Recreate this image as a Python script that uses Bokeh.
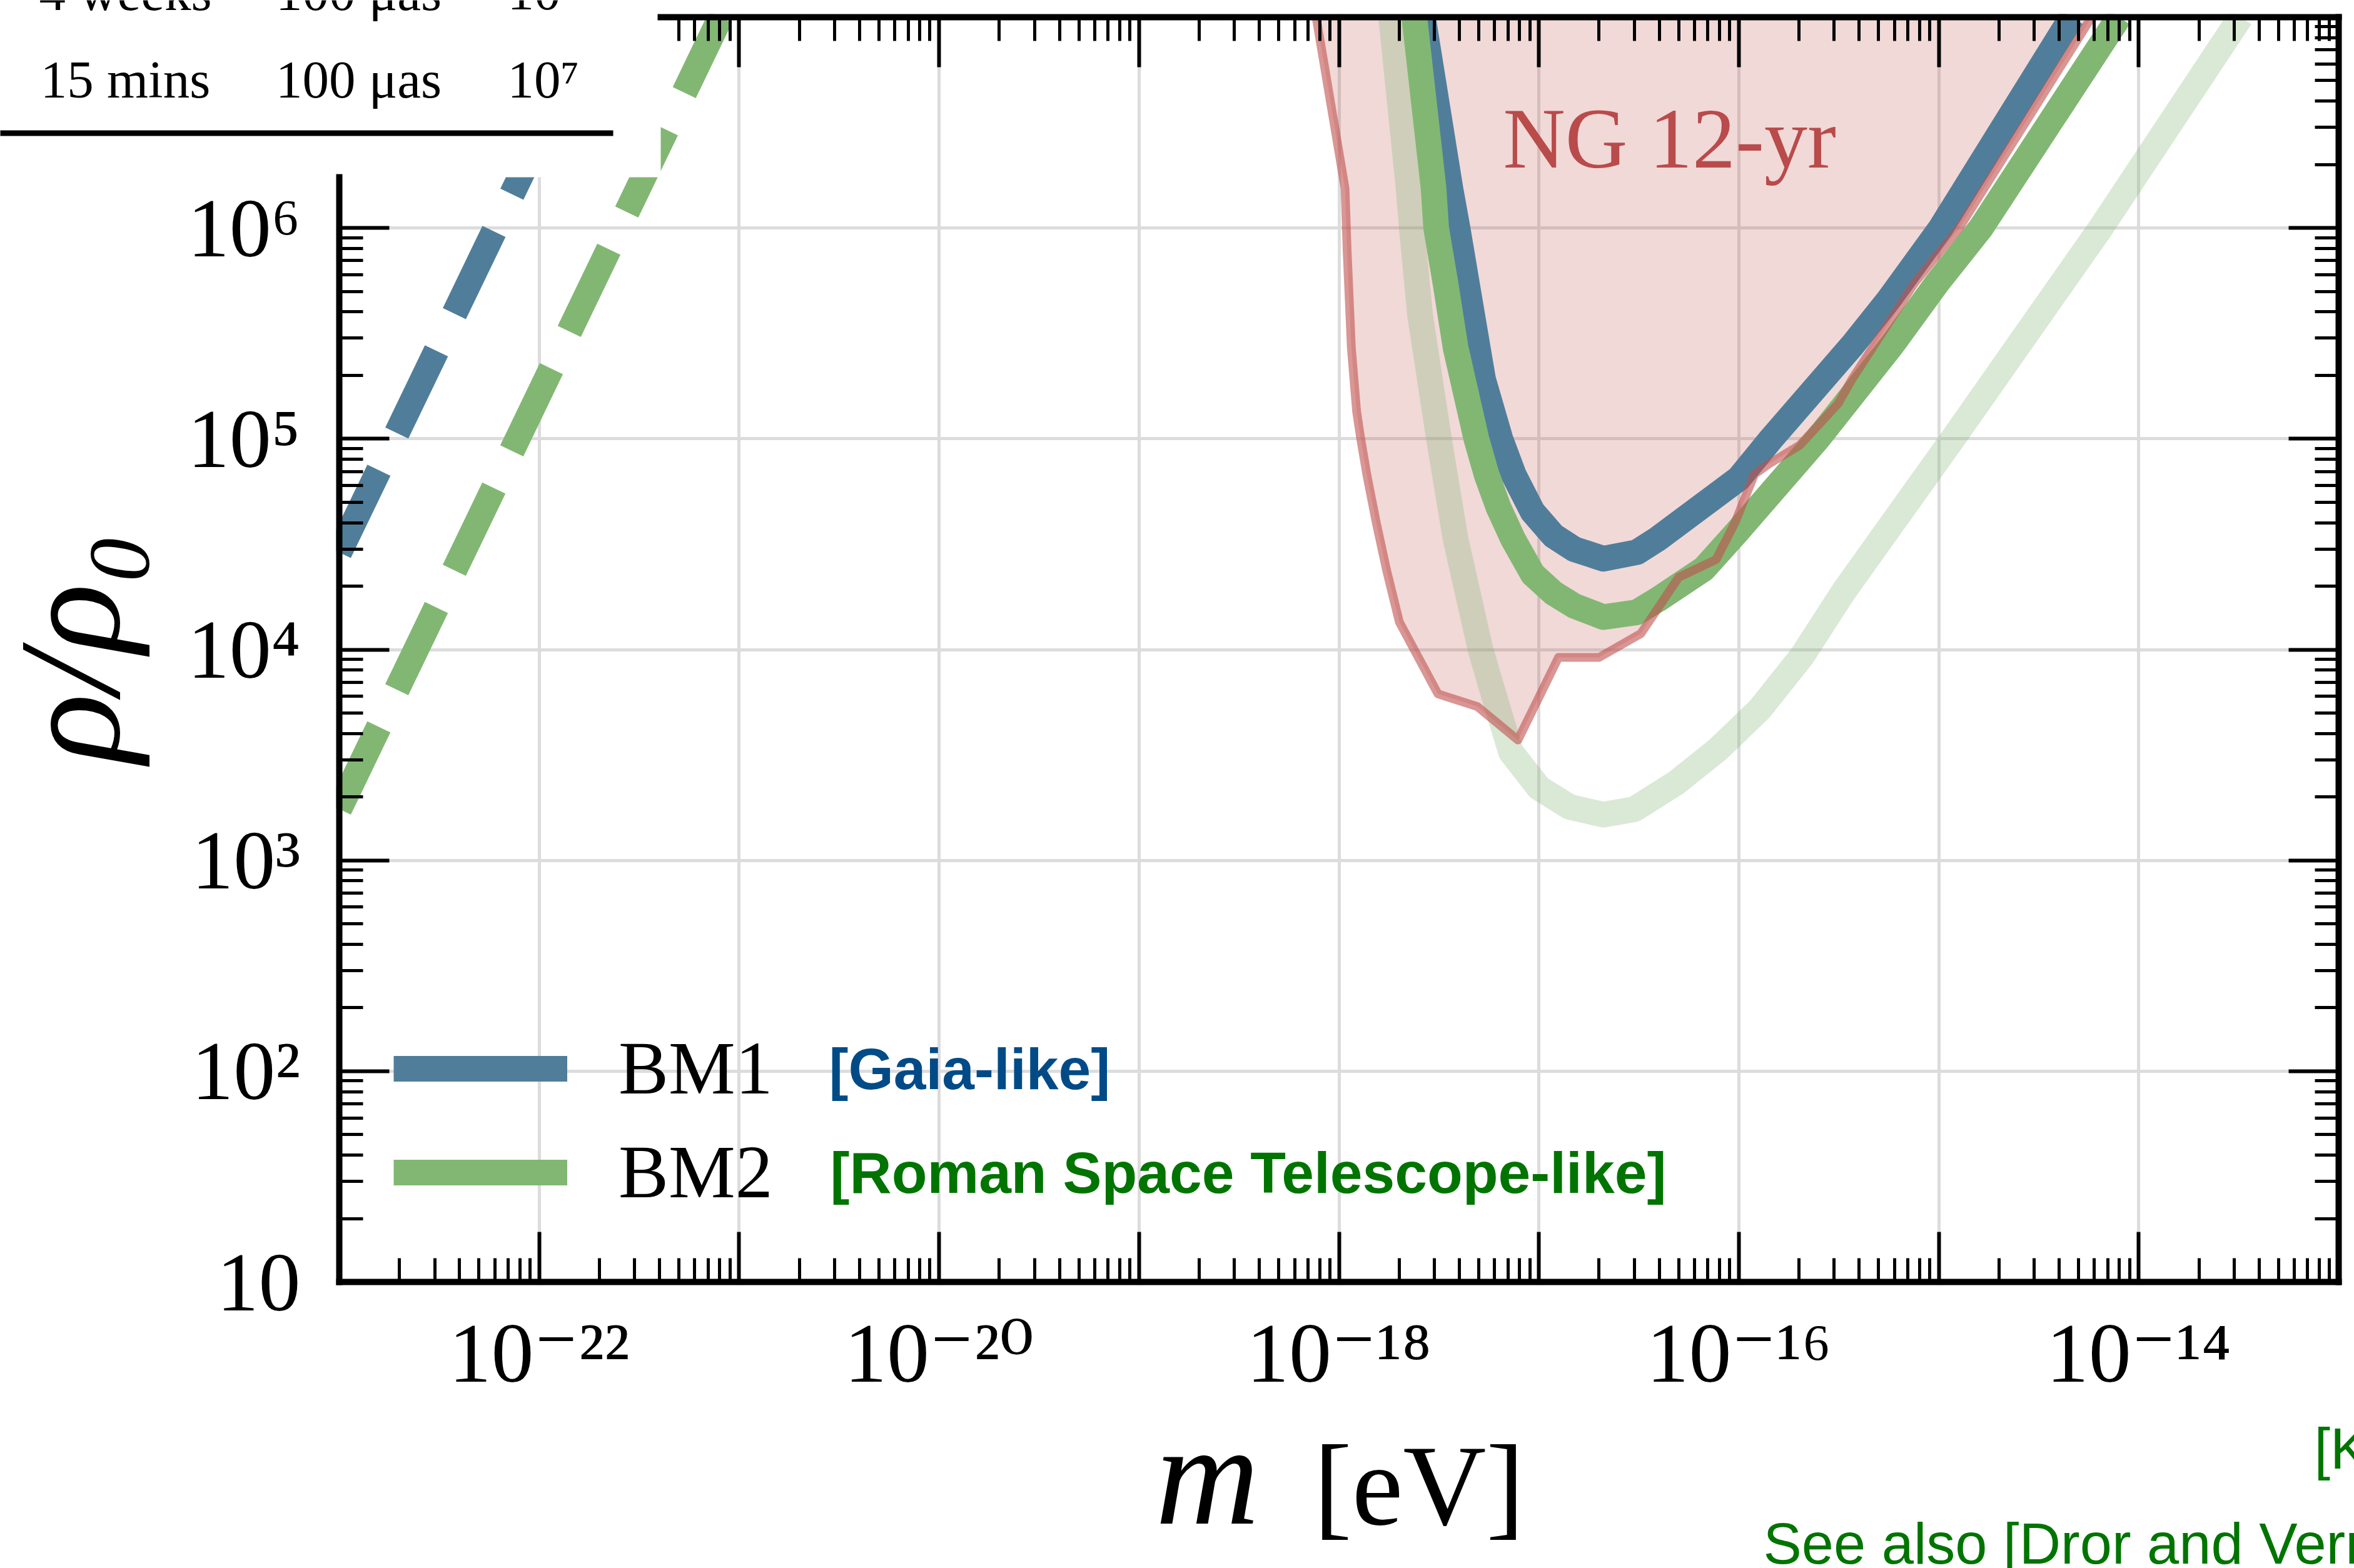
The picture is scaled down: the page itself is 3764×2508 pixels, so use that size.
from math import pi
from bokeh.plotting import figure
from bokeh.models import (Range1d, FixedTicker, LogAxis, Label, BoxAnnotation,
                          Legend, LegendItem)
from bokeh.embed import file_html
from bokeh.resources import INLINE

# ---------------- data ----------------
# BM1 (Gaia-like)
bm1_m = [2.630e-18, 3.606e-18, 3.917e-18, 4.365e-18, 5.260e-18, 6.412e-18, 7.499e-18,
         9.311e-18, 1.183e-17, 1.503e-17, 2.104e-17, 3.090e-17, 3.926e-17,
         1.0e-16, 1.452e-16, 3.707e-16, 5.623e-16, 1.023e-15, 4.624e-15]
bm1_rho = [1e7, 1.545e6, 1e6, 5.433e5, 1.910e5, 1e5, 6.714e4,
           4.498e4, 3.467e4, 2.992e4, 2.698e4, 2.897e4, 3.350e4,
           6.486e4, 1e5, 2.786e5, 4.571e5, 1e6, 1e7]

# BM2 (Roman Space Telescope-like)
bm2_m = [2.382e-18, 2.972e-18, 3.062e-18, 3.412e-18, 3.828e-18, 4.864e-18, 5.483e-18,
         6.266e-18, 7.413e-18, 9.311e-18, 1.183e-17, 1.503e-17, 2.104e-17, 3.090e-17,
         3.926e-17, 6.683e-17, 9.727e-17, 2.483e-16, 5.834e-16, 9.863e-16, 1.622e-15,
         7.962e-15]
bm2_rho = [1e7, 1.545e6, 1e6, 5.433e5, 2.710e5, 1e5, 6.714e4,
           4.742e4, 3.350e4, 2.280e4, 1.854e4, 1.611e4, 1.426e4, 1.503e4,
           1.726e4, 2.415e4, 3.589e4, 1e5, 2.786e5, 5.521e5, 1e6,
           1e7]

# faint BM2 curve
bm2f_m = [1.824e-18, 2.228e-18, 2.312e-18, 2.547e-18, 3.162e-18, 3.828e-18, 4.446e-18,
          5.105e-18, 5.754e-18, 7.244e-18, 1.0e-17, 1.426e-17, 2.099e-17, 2.992e-17,
          4.842e-17, 7.852e-17, 1.274e-16, 2.065e-16, 3.342e-16, 1.175e-15, 6.457e-15,
          3.236e-14]
bm2f_rho = [1e7, 1.545e6, 1e6, 3.837e5, 1e5, 3.350e4, 1.786e4,
            1e4, 6.761e3, 3.266e3, 2.208e3, 1.791e3, 1.648e3, 1.746e3,
            2.328e3, 3.357e3, 5.224e3, 9.290e3, 1.884e4, 1e5, 1e6,
            1e7]

# low-mass dashed branches
bm1_low_m = [1e-23, 1.95e-22]
bm1_low_rho = [2.89e4, 1e7]
bm2_low_m = [1e-23, 8.07e-22]
bm2_low_rho = [1.75e3, 1e7]

# NANOGrav 12-yr excluded region (lower boundary)
ng_m = [7.691e-19, 1.072e-18, 1.099e-18, 1.153e-18, 1.225e-18, 1.285e-18, 1.380e-18,
        1.538e-18, 1.734e-18, 2.004e-18, 3.126e-18, 4.920e-18, 7.852e-18, 1.253e-17,
        2.000e-17, 3.236e-17, 5.000e-17, 7.691e-17, 9.594e-17, 1.197e-16, 1.413e-16,
        2.018e-16, 3.141e-16, 3.707e-16, 7.586e-16, 1.265e-15, 5.808e-15]
ng_rho = [1e7, 1.545e6, 7.709e5, 2.710e5, 1.349e5, 1e5, 6.714e4,
          3.981e4, 2.360e4, 1.352e4, 6.166e3, 5.370e3, 3.724e3, 9.183e3,
          9.183e3, 1.191e4, 2.203e4, 2.673e4, 4.027e4, 6.792e4, 7.603e4,
          9.333e4, 1.472e5, 1.936e5, 5.508e5, 1e6, 1e7]
RHO_TOP = 1e7
ng_top = [RHO_TOP] * len(ng_m)

# axes
M_MIN, M_MAX = 1e-23, 1e-13
RHO_MIN, RHO_MAX = 10.0, 1e7
x_decades = [float(f"1e{k}") for k in range(-23, -12)]
y_decades = [float(f"1e{k}") for k in range(1, 8)]
x_tick_labels = {1e-22: "10⁻²²", 1e-20: "10⁻²⁰", 1e-18: "10⁻¹⁸", 1e-16: "10⁻¹⁶", 1e-14: "10⁻¹⁴"}
y_tick_labels = {10.0: "10", 100.0: "10²", 1000.0: "10³", 1e4: "10⁴", 1e5: "10⁵", 1e6: "10⁶"}

# table rows (partially visible at the top-left)
table_rows = [["4 weeks", "100 μas", "10"], ["15 mins", "100 μas", "10⁷"]]

# ---------------- layout (canvas pixels) ----------------
W, H = 3764, 2508
FL, FR, FT, FB = 542, 3739, 27, 2050      # plot box edges on the canvas
TABLE_R, TABLE_B = 1056, 283              # table overlay extent
DX = (FR - FL) / 10.0                     # px per decade of m
DY = (FB - FT) / 6.0                      # px per decade of rho


def cx(px):
    """canvas x pixel -> data m"""
    return 10 ** (-23 + (px - FL) / DX)


def cy(py):
    """canvas y pixel -> data rho"""
    return 10 ** (7 - (py - FT) / DY)


BLUE = "#507e9a"
GREEN = "#82b773"
NG = "#c0504d"
SERIF = "Liberation Serif"
TICKFONT = "Liberation Serif, DejaVu Serif"
SANS = "Liberation Sans"

p = figure(width=W, height=H, x_axis_type="log", y_axis_type="log",
           x_range=Range1d(cx(0), cx(W)), y_range=Range1d(cy(H), cy(0)),
           output_backend="svg", toolbar_location=None,
           min_border=0, min_border_left=0, min_border_right=0,
           min_border_top=0, min_border_bottom=0)
p.background_fill_color = "white"
p.border_fill_color = "white"
p.outline_line_color = None

x_minor = [j * d for d in x_decades[:-1] for j in range(2, 10)]
y_minor = [j * d for d in y_decades[:-1] for j in range(2, 10)]
xt = FixedTicker(ticks=x_decades, minor_ticks=x_minor)
yt = FixedTicker(ticks=y_decades, minor_ticks=y_minor)
# ticks hidden under the table are left out on the left and top axes
y_left = FixedTicker(ticks=[t for t in y_decades if t <= cy(TABLE_B)],
                     minor_ticks=[t for t in y_minor if t <= cy(TABLE_B)])
x_top = FixedTicker(ticks=[t for t in x_decades if t >= cx(TABLE_R)],
                    minor_ticks=[t for t in x_minor if t >= cx(TABLE_R)])


def style_axis(ax):
    ax.level = "overlay"
    ax.axis_line_width = 10
    ax.axis_line_color = "black"
    ax.axis_line_cap = "square"
    ax.major_tick_in = 80
    ax.major_tick_out = 0
    ax.minor_tick_in = 38
    ax.minor_tick_out = 0
    ax.major_tick_line_width = 6
    ax.minor_tick_line_width = 5
    ax.major_tick_line_color = "black"
    ax.minor_tick_line_color = "black"


xa = p.xaxis[0]
xa.ticker = xt
style_axis(xa)
xa.fixed_location = RHO_MIN
xa.bounds = (M_MIN, M_MAX)
xa.major_label_overrides = {d: x_tick_labels.get(d, " ") for d in x_decades}
xa.major_label_text_font = TICKFONT
xa.major_label_text_font_size = "136px"
xa.major_label_text_color = "black"
xa.major_label_standoff = 38

ya = p.yaxis[0]
ya.ticker = y_left
style_axis(ya)
ya.fixed_location = M_MIN
ya.bounds = (RHO_MIN, cy(TABLE_B))
ya.major_label_overrides = {d: y_tick_labels.get(d, " ") for d in y_decades}
ya.major_label_text_font = TICKFONT
ya.major_label_text_font_size = "134px"
ya.major_label_text_color = "black"
ya.major_label_standoff = 62

top_ax = LogAxis(ticker=x_top, fixed_location=RHO_MAX, bounds=(cx(TABLE_R), M_MAX),
                 major_label_text_font_size="1px", major_label_text_alpha=0,
                 major_label_standoff=0)
right_ax = LogAxis(ticker=yt, fixed_location=M_MAX, bounds=(RHO_MIN, RHO_MAX),
                   major_label_text_font_size="1px", major_label_text_alpha=0,
                   major_label_standoff=0)
style_axis(top_ax)
style_axis(right_ax)
p.add_layout(top_ax, "above")
p.add_layout(right_ax, "right")

p.xgrid.ticker = xt
p.ygrid.ticker = yt
for g in (p.xgrid[0], p.ygrid[0]):
    g.grid_line_color = "#dcdcdc"
    g.grid_line_width = 5

# ---------------- glyphs ----------------
p.varea(x=ng_m, y1=ng_rho, y2=ng_top, fill_color=NG, fill_alpha=0.22)
r_faint = p.line(bm2f_m, bm2f_rho, line_color=GREEN, line_alpha=0.3, line_width=41,
                 line_join="round")
r_bm1 = p.line(bm1_m, bm1_rho, line_color=BLUE, line_width=41, line_join="round")
r_bm2 = p.line(bm2_m, bm2_rho, line_color=GREEN, line_width=41, line_join="round")
p.line(bm1_low_m, bm1_low_rho, line_color=BLUE, line_width=41, line_dash="146 66")
p.line(bm2_low_m, bm2_low_rho, line_color=GREEN, line_width=41, line_dash="146 66")
p.line(ng_m, ng_rho, line_color=NG, line_alpha=0.6, line_width=14, line_join="round")


def white_box(x0, x1, y0, y1, color="white", level="annotation"):
    return BoxAnnotation(left=cx(x0), right=cx(x1), top=cy(y0), bottom=cy(y1),
                         fill_color=color, fill_alpha=1.0, line_color=None,
                         line_alpha=0, level=level)


# white margins around the plot box (data are clipped to the box)
p.add_layout(white_box(-20, FL - 5, -20, H + 20))
p.add_layout(white_box(FR + 5, W + 20, -20, H + 20))
p.add_layout(white_box(-20, W + 20, -20, FT - 5))
p.add_layout(white_box(-20, W + 20, FB + 5, H + 20))

# table overlay at the top-left
p.add_layout(white_box(-20, TABLE_R, -20, TABLE_B))
p.add_layout(white_box(-20, 980, 208, 217, color="black", level="overlay"))
row_y = [-14, 126]
col_x = [200, 573, 811]
col_align = ["center", "center", "left"]
for r, row in enumerate(table_rows):
    for c, txt in enumerate(row):
        p.add_layout(Label(x=cx(col_x[c]), y=cy(row_y[r]), text=txt,
                           text_align=col_align[c], text_baseline="middle",
                           text_font=SERIF, text_font_size="85px", text_color="black",
                           level="overlay"))

# axis titles
p.add_layout(Label(x=cx(111), y=cy(1036), text="ρ/ρ₀", angle=pi / 2,
                   text_align="center", text_baseline="middle", text_font=SERIF,
                   text_font_style="italic", text_font_size="232px",
                   text_color="black", level="overlay"))
p.add_layout(Label(x=cx(1930), y=cy(2359), text="m", text_align="center",
                   text_baseline="middle", text_font=SERIF, text_font_style="italic",
                   text_font_size="230px", text_color="black", level="overlay"))
p.add_layout(Label(x=cx(2100), y=cy(2375), text="[eV]", text_align="left",
                   text_baseline="middle", text_font=SERIF,
                   text_font_size="184px", text_color="black", level="overlay"))

p.add_layout(Label(x=cx(2669), y=cy(221), text="NG 12-yr", text_align="center",
                   text_baseline="middle", text_font=SERIF, text_font_size="138px",
                   text_color="#b94b4b"))

legend = Legend(items=[LegendItem(label="BM1", renderers=[r_bm1]),
                       LegendItem(label="BM2", renderers=[r_bm2])],
                location=(629, H - 1945), orientation="vertical",
                border_line_color=None, background_fill_alpha=0,
                label_text_font=SERIF, label_text_font_size="120px",
                label_text_color="black",
                glyph_width=278, glyph_height=140, label_height=140,
                label_standoff=82, spacing=26, padding=0, margin=0)
p.add_layout(legend)

p.add_layout(Label(x=cx(1325), y=cy(1709), text="[Gaia-like]",
                   text_baseline="middle", text_font=SANS, text_font_style="bold",
                   text_font_size="93px", text_color="#004b87"))
p.add_layout(Label(x=cx(1327), y=cy(1875), text="[Roman Space Telescope-like]",
                   text_baseline="middle", text_font=SANS, text_font_style="bold",
                   text_font_size="93px", text_color="#007400"))

# slide texts below the chart (running off the page as in the reference)
p.add_layout(Label(x=cx(3700), y=cy(2316), text="[K",
                   text_baseline="middle", text_font=SANS, text_font_size="92px",
                   text_color="#007400", level="overlay"))
p.add_layout(Label(x=cx(2819), y=cy(2468), text="See also [Dror and Verner]",
                   text_baseline="middle", text_font=SANS, text_font_size="92px",
                   text_color="#007400", level="overlay"))

open("out.html", "w").write(file_html(p, INLINE))
